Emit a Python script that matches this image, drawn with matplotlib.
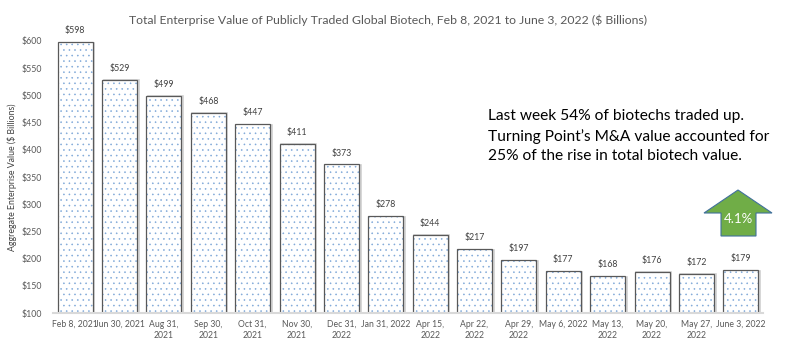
import matplotlib
matplotlib.use("Agg")
import matplotlib.pyplot as plt
from matplotlib.patches import Polygon

plt.rcParams['font.family'] = ['Lato', 'DejaVu Sans']
plt.rcParams['hatch.linewidth'] = 0.4

categories = ["Feb 8, 2021", "Jun 30, 2021", "Aug 31,\n2021", "Sep 30,\n2021", "Oct 31,\n2021",
              "Nov 30,\n2021", "Dec 31,\n2022", "Jan 31, 2022", "Apr 15,\n2022", "Apr 22,\n2022",
              "Apr 29,\n2022", "May 6, 2022", "May 13,\n2022", "May 20,\n2022", "May 27,\n2022",
              "June 3, 2022"]
values = [598, 529, 499, 468, 447, 411, 373, 278, 244, 217, 197, 177, 168, 176, 172, 179]
yticks = [100, 150, 200, 250, 300, 350, 400, 450, 500, 550, 600]

W, H = 786, 356
fig = plt.figure(figsize=(W / 100, H / 100), dpi=100)
ax = fig.add_axes([53 / W, 1 - 313 / H, 710 / W, 272 / H])

x = list(range(len(values)))
bottom = 100
heights = [v - bottom for v in values]
# hatch fill
ax.bar(x, heights, bottom=bottom, width=0.79, facecolor='white', edgecolor='#7FA8D8',
       hatch='...', linewidth=0, zorder=2)
# shadow
ax.bar([i + 0.035 for i in x], heights, bottom=bottom - 1.0, width=0.79, facecolor='none',
       edgecolor='#D0D0D0', linewidth=1.2, zorder=1.5)
# outline
ax.bar(x, heights, bottom=bottom, width=0.79, facecolor='none', edgecolor='#595959',
       linewidth=0.9, zorder=3)

for i, v in enumerate(values):
    ax.annotate(f"${v}", (i, v), xytext=(0, 5), textcoords='offset points',
                ha='center', va='bottom', fontsize=6.3, color='#404040', clip_on=False)

ax.set_xlim(-0.5, len(values) - 0.5)
ax.set_ylim(100, 600)
ax.set_yticks(yticks)
ax.set_yticklabels([f"${t}" for t in yticks], fontsize=6.3, color='#595959')
ax.set_xticks(x)
ax.set_xticklabels(categories, fontsize=6.2, color='#595959', linespacing=1.3)
ax.tick_params(axis='both', length=0)
ax.tick_params(axis='x', pad=5)
ax.tick_params(axis='y', pad=8)
for s in ['top', 'right', 'left']:
    ax.spines[s].set_visible(False)
ax.spines['bottom'].set_color('#D9D9D9')
ax.spines['bottom'].set_linewidth(1.5)
ax.spines['bottom'].set_zorder(4)

ax.set_ylabel("Aggregate Enterprise Value ($ Billions)", fontsize=6.3, color='#404040', labelpad=3)

fig.text(388 / W, 1 - 20 / H,
         "Total Enterprise Value of Publicly Traded Global Biotech, Feb 8, 2021 to June 3, 2022 ($ Billions)",
         ha='center', va='center', fontsize=8.8, color='#595959')

fig.text(488 / W, 1 - 136 / H,
         "Last week 54% of biotechs traded up.\nTurning Point\u2019s M&A value accounted for\n25% of the rise in total biotech value.",
         ha='left', va='center', fontsize=11.2, color='#000000', linespacing=1.45)

pts = [(738, 190), (772, 213), (756, 213), (756, 236), (721, 236), (721, 213), (704, 213)]
poly = Polygon([(px / W, 1 - py / H) for px, py in pts], closed=True, transform=fig.transFigure,
               facecolor='#70AD47', edgecolor='#41719C', linewidth=0.8)
fig.add_artist(poly)
fig.text(738 / W, 1 - 219 / H, "4.1%", ha='center', va='center', fontsize=9.5, color='white')

fig.savefig("out.png", dpi=100)
